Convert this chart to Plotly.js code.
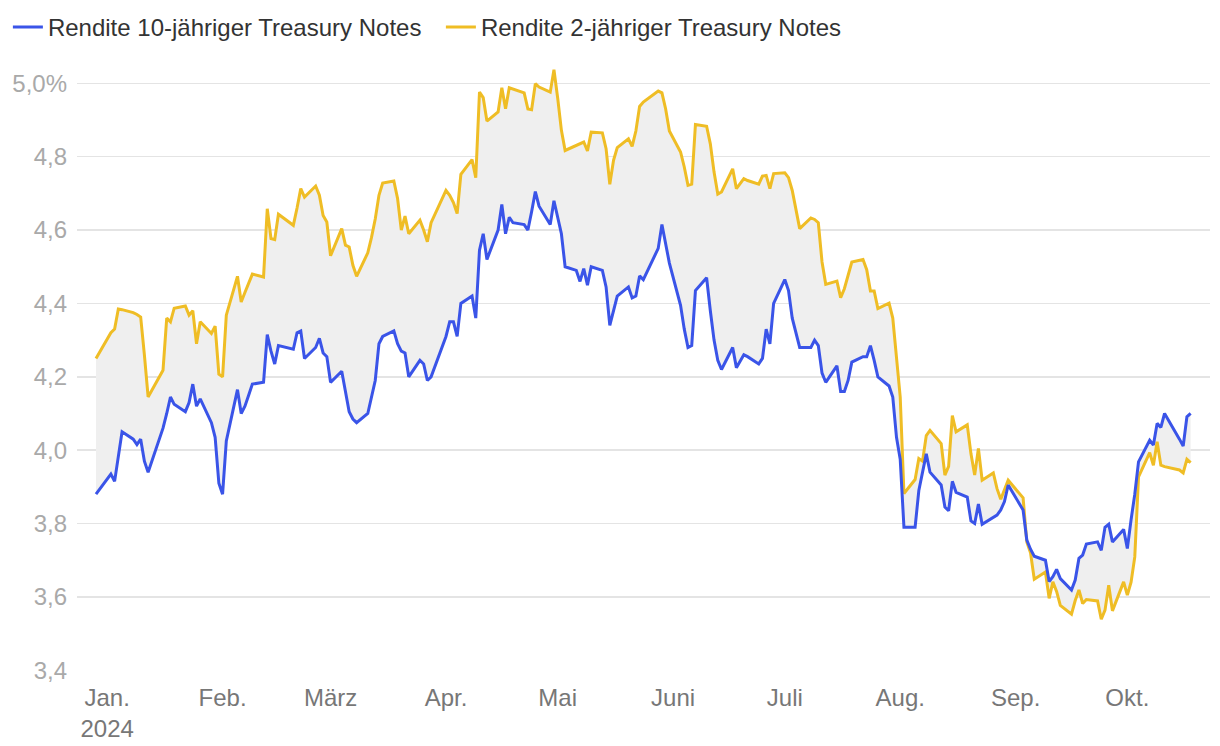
<!DOCTYPE html>
<html><head><meta charset="utf-8">
<script src="https://cdn.plot.ly/plotly-3.0.1.min.js"></script>
<style>html,body{margin:0;padding:0;background:#fff}#chart{width:1220px;height:746px}</style>
</head><body><div id="chart"></div>
<script>
const dates = [
'2023-12-29',
'2024-01-02','2024-01-03','2024-01-04','2024-01-05','2024-01-08','2024-01-09','2024-01-10','2024-01-11','2024-01-12','2024-01-16','2024-01-17','2024-01-18','2024-01-19','2024-01-22','2024-01-23','2024-01-24','2024-01-25','2024-01-26','2024-01-29','2024-01-30','2024-01-31',
'2024-02-01','2024-02-02','2024-02-05','2024-02-06','2024-02-07','2024-02-08','2024-02-09','2024-02-12','2024-02-13','2024-02-14','2024-02-15','2024-02-16','2024-02-20','2024-02-21','2024-02-22','2024-02-23','2024-02-26','2024-02-27','2024-02-28','2024-02-29',
'2024-03-01','2024-03-04','2024-03-05','2024-03-06','2024-03-07','2024-03-08','2024-03-11','2024-03-12','2024-03-13','2024-03-14','2024-03-15','2024-03-18','2024-03-19','2024-03-20','2024-03-21','2024-03-22','2024-03-25','2024-03-26','2024-03-27','2024-03-28',
'2024-04-01','2024-04-02','2024-04-03','2024-04-04','2024-04-05','2024-04-08','2024-04-09','2024-04-10','2024-04-11','2024-04-12','2024-04-15','2024-04-16','2024-04-17','2024-04-18','2024-04-19','2024-04-22','2024-04-23','2024-04-24','2024-04-25','2024-04-26','2024-04-29','2024-04-30',
'2024-05-01','2024-05-02','2024-05-03','2024-05-06','2024-05-07','2024-05-08','2024-05-09','2024-05-10','2024-05-13','2024-05-14','2024-05-15','2024-05-16','2024-05-17','2024-05-20','2024-05-21','2024-05-22','2024-05-23','2024-05-24','2024-05-28','2024-05-29','2024-05-30','2024-05-31',
'2024-06-03','2024-06-04','2024-06-05','2024-06-06','2024-06-07','2024-06-10','2024-06-11','2024-06-12','2024-06-13','2024-06-14','2024-06-17','2024-06-18','2024-06-20','2024-06-21','2024-06-24','2024-06-25','2024-06-26','2024-06-27','2024-06-28',
'2024-07-01','2024-07-02','2024-07-03','2024-07-05','2024-07-08','2024-07-09','2024-07-10','2024-07-11','2024-07-12','2024-07-15','2024-07-16','2024-07-17','2024-07-18','2024-07-19','2024-07-22','2024-07-23','2024-07-24','2024-07-25','2024-07-26','2024-07-29','2024-07-30','2024-07-31',
'2024-08-01','2024-08-02','2024-08-05','2024-08-06','2024-08-07','2024-08-08','2024-08-09','2024-08-12','2024-08-13','2024-08-14','2024-08-15','2024-08-16','2024-08-19','2024-08-20','2024-08-21','2024-08-22','2024-08-23','2024-08-26','2024-08-27','2024-08-28','2024-08-29','2024-08-30',
'2024-09-03','2024-09-04','2024-09-05','2024-09-06','2024-09-09','2024-09-10','2024-09-11','2024-09-12','2024-09-13','2024-09-16','2024-09-17','2024-09-18','2024-09-19','2024-09-20','2024-09-23','2024-09-24','2024-09-25','2024-09-26','2024-09-27','2024-09-30',
'2024-10-01','2024-10-02','2024-10-03','2024-10-04','2024-10-07','2024-10-08','2024-10-09','2024-10-10','2024-10-11','2024-10-15','2024-10-16','2024-10-17','2024-10-18'
];

const yield10 = [
3.88,
3.935,3.915,3.99,4.05,4.03,4.015,4.03,3.97,3.94,4.06,4.10,4.145,4.125,4.105,4.13,4.18,4.12,4.14,4.075,4.035,3.91,
3.88,4.025,4.165,4.10,4.12,4.15,4.18,4.185,4.315,4.27,4.235,4.285,4.275,4.32,4.325,4.25,4.28,4.305,4.265,4.255,
4.185,4.215,4.155,4.105,4.085,4.075,4.10,4.15,4.19,4.29,4.31,4.325,4.29,4.27,4.265,4.20,4.245,4.235,4.19,4.20,
4.31,4.35,4.35,4.31,4.40,4.42,4.36,4.545,4.59,4.52,4.60,4.67,4.59,4.635,4.62,4.615,4.60,4.65,4.705,4.665,4.615,4.68,
4.63,4.59,4.50,4.49,4.46,4.495,4.45,4.50,4.49,4.445,4.34,4.38,4.42,4.445,4.415,4.42,4.475,4.465,4.55,4.615,4.56,4.51,
4.395,4.33,4.28,4.285,4.435,4.47,4.38,4.30,4.245,4.22,4.28,4.225,4.26,4.255,4.235,4.25,4.33,4.29,4.40,
4.465,4.435,4.36,4.28,4.28,4.30,4.285,4.21,4.185,4.23,4.16,4.16,4.19,4.24,4.255,4.255,4.285,4.245,4.20,4.175,4.145,4.035,
3.975,3.79,3.79,3.89,3.945,3.99,3.94,3.905,3.845,3.835,3.915,3.885,3.872,3.807,3.80,3.853,3.798,3.815,3.823,3.837,3.86,3.905,
3.837,3.755,3.73,3.711,3.70,3.642,3.655,3.675,3.65,3.619,3.646,3.705,3.714,3.744,3.75,3.727,3.79,3.798,3.75,3.784,
3.732,3.81,3.88,3.968,4.027,4.014,4.073,4.062,4.10,4.03,4.011,4.091,4.10
];

const yield2 = [
4.25,
4.32,4.33,4.385,4.383,4.375,4.37,4.363,4.26,4.145,4.218,4.36,4.35,4.387,4.393,4.368,4.38,4.29,4.35,4.318,4.338,4.207,
4.20,4.368,4.474,4.404,4.43,4.455,4.48,4.472,4.658,4.577,4.574,4.643,4.613,4.66,4.713,4.69,4.72,4.695,4.64,4.622,
4.53,4.604,4.559,4.554,4.504,4.474,4.538,4.58,4.63,4.695,4.728,4.734,4.686,4.60,4.638,4.59,4.627,4.60,4.568,4.62,
4.708,4.695,4.675,4.645,4.752,4.792,4.743,4.976,4.961,4.897,4.922,4.988,4.931,4.988,4.985,4.974,4.93,4.928,4.999,4.99,4.976,5.037,
4.96,4.872,4.817,4.831,4.835,4.84,4.816,4.867,4.865,4.822,4.725,4.79,4.825,4.849,4.828,4.87,4.937,4.949,4.979,4.974,4.93,4.87,
4.813,4.772,4.722,4.725,4.888,4.883,4.835,4.758,4.698,4.704,4.767,4.713,4.74,4.735,4.725,4.747,4.749,4.713,4.754,
4.756,4.743,4.708,4.604,4.633,4.629,4.62,4.513,4.452,4.461,4.416,4.44,4.475,4.513,4.52,4.492,4.434,4.434,4.386,4.401,4.36,4.26,
4.145,3.882,3.92,3.977,3.97,4.04,4.054,4.018,3.932,3.956,4.094,4.05,4.069,3.99,3.932,4.005,3.918,3.938,3.895,3.866,3.89,3.918,
3.87,3.75,3.72,3.648,3.668,3.596,3.641,3.615,3.577,3.553,3.59,3.619,3.582,3.593,3.589,3.539,3.564,3.632,3.562,3.641,
3.605,3.64,3.709,3.927,3.993,3.959,4.023,3.959,3.955,3.946,3.938,3.975,3.966
];

const monthTicks = ['2024-01-01','2024-02-01','2024-03-01','2024-04-01','2024-05-01','2024-06-01','2024-07-01','2024-08-01','2024-09-01','2024-10-01'];
const monthLabels = ['Jan.<br>2024','Feb.','März','Apr.','Mai','Juni','Juli','Aug.','Sep.','Okt.'];
const yTicks = [3.4,3.6,3.8,4.0,4.2,4.4,4.6,4.8,5.0];
const yLabels = ['3,4','3,6','3,8','4,0','4,2','4,4','4,6','4,8','5,0%'];

const seriesNames = ['Rendite 10-jähriger Treasury Notes','Rendite 2-jähriger Treasury Notes'];
const BLUE = '#3a54e8', YELLOW = '#efbd25';
const FONT = '"Liberation Sans", Arial, Helvetica, sans-serif';

const traces = [
  // band between the two series (no legend entries)
  {x: dates, y: yield10, mode: 'lines', line: {width: 0, color: 'rgba(0,0,0,0)'}, showlegend: false, hoverinfo: 'skip'},
  {x: dates, y: yield2, mode: 'lines', line: {width: 0, color: 'rgba(0,0,0,0)'}, fill: 'tonexty', fillcolor: '#efefef', showlegend: false, hoverinfo: 'skip'},
  // visible lines
  {x: dates, y: yield2, name: seriesNames[1], mode: 'lines', line: {color: YELLOW, width: 3}, legendrank: 2},
  {x: dates, y: yield10, name: seriesNames[0], mode: 'lines', line: {color: BLUE, width: 3}, legendrank: 1}
];

const layout = {
  width: 1220, height: 746,
  margin: {l: 77, r: 10, t: 64.6, b: 75.3, autoexpand: false},
  paper_bgcolor: '#fff', plot_bgcolor: '#fff',
  font: {family: FONT},
  showlegend: true,
  legend: {orientation: 'h', traceorder: 'normal', x: -0.061, xanchor: 'left', y: 1.0621, yanchor: 'middle',
           entrywidth: 388, entrywidthmode: 'pixels',
           font: {size: 24, color: '#333', family: FONT}, bgcolor: 'rgba(0,0,0,0)'},
  xaxis: {type: 'date', range: ['2023-12-23 21:35', '2024-10-23 04:50'], automargin: false,
          tickmode: 'array', tickvals: monthTicks, ticktext: monthLabels,
          showgrid: false, zeroline: false, showline: false, ticks: '', ticklabelstandoff: 10,
          tickfont: {size: 24, color: '#777', family: FONT}},
  yaxis: {range: [3.398, 5.05], tickmode: 'array', tickvals: yTicks, ticktext: yLabels, automargin: false,
          showgrid: true, gridcolor: '#e4e4e4', gridwidth: 1.5, zeroline: false, showline: false, ticks: '',
          ticklabelstandoff: 9,
          tickfont: {size: 24, color: '#a9a9a9', family: FONT}}
};

Plotly.newPlot('chart', traces, layout, {displayModeBar: false, staticPlot: true});
</script>
</body></html>
